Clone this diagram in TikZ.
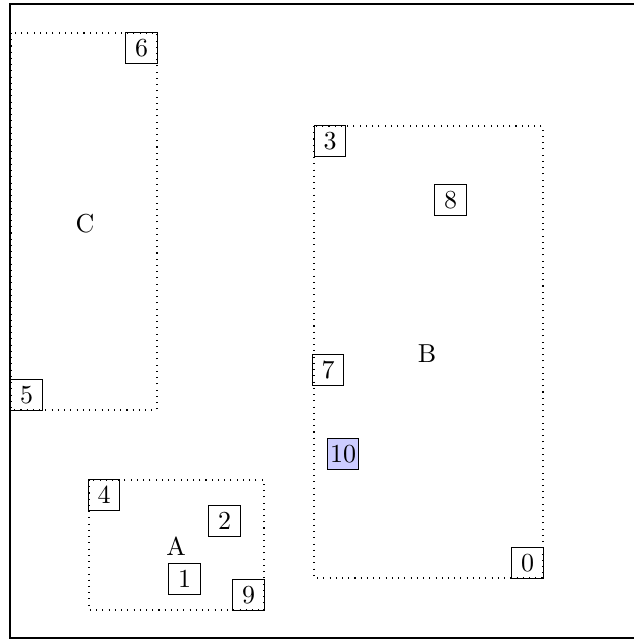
\documentclass[tikz,border=0pt]{standalone}
\usepackage{tikz}
\usetikzlibrary{positioning}

\begin{document}
\begin{tikzpicture}[x=0.385pt,y=-0.385pt,
    numbox/.style={draw,thin,minimum size=12pt,inner sep=1pt},
    region/.style={draw,dotted,thin}]
      \useasboundingbox (0,0) rectangle (634,639);

      % outer frame
      \begin{scope}
      \clip (0,0) rectangle (634,639);
      \draw[semithick] (10,4) rectangle (660,638);
      \end{scope}

      % regions
      \draw[region] (11,33) rectangle (157,410);
      \draw[region] (314,126) rectangle (543,578);
      \draw[region] (89,480) rectangle (264,610);

      % region labels
      \node (labA) at (176,546) {A};
      \node (labB) at (427,354) {B};
      \node (labC) at (85,224) {C};

      % numbered boxes
      \foreach \n/\x/\y in {0/527.5/563, 1/184.5/579, 2/224.5/521, 3/330/141,
                           4/104/495, 5/26.5/395, 6/141.5/48, 7/328/370,
                           8/450.5/200, 9/248.5/595}
      \node[numbox] (box\n) at (\x,\y) {\n};
      \node[numbox,fill=blue!20] (box10) at (343,454) {10};
    \end{tikzpicture}
\end{document}
